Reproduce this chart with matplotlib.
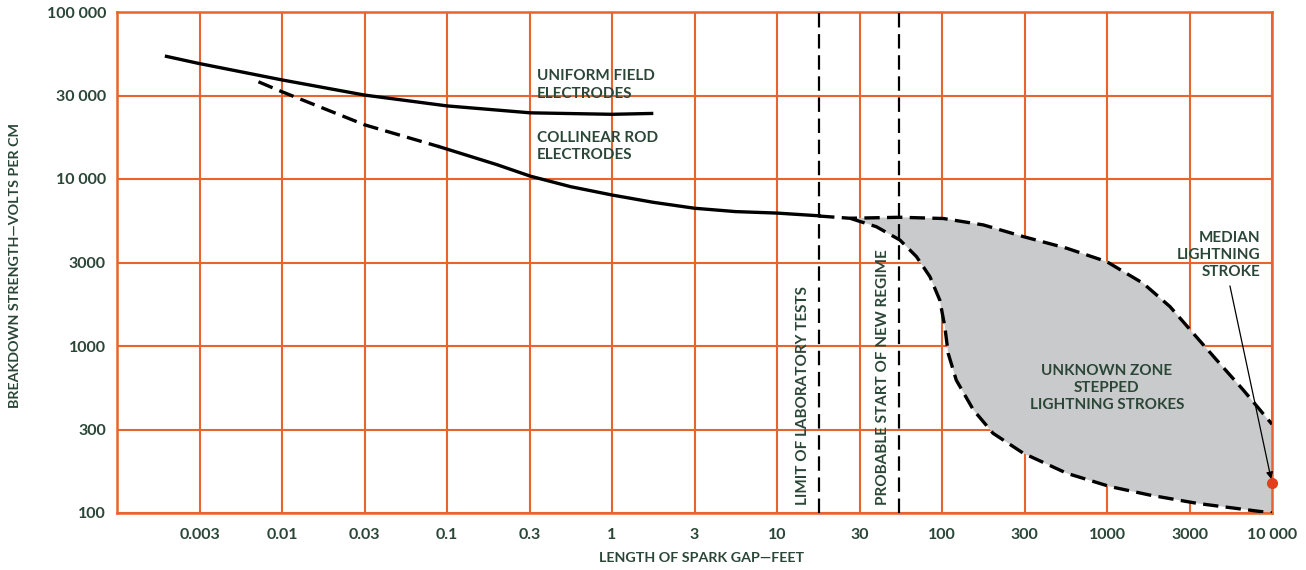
import numpy as np
import matplotlib
matplotlib.use("Agg")
import matplotlib.pyplot as plt

plt.rcParams['font.family'] = ['Lato', 'DejaVu Sans']

# uniform field electrodes
uni_x = [0.00195, 0.0031, 0.01, 0.0317, 0.1, 0.32, 1.0, 1.78]
uni_y = [54500, 49300, 39200, 31800, 27400, 24900, 24400, 24700]

# collinear rod electrodes (dashed start, then solid)
rod_dash_x = [0.0072, 0.01, 0.0317, 0.09]
rod_dash_y = [38200, 33300, 21100, 15600]
rod_x = [0.09, 0.2, 0.32, 0.56, 1.0, 1.78, 3.17, 5.6, 10, 18]
rod_y = [15600, 12200, 10400, 9000, 8020, 7250, 6680, 6380, 6250, 6020]

# unknown zone boundaries
up_x = [18, 27.7, 55.6, 102, 178, 311, 570, 996, 1660, 2410, 3335, 4620, 6700, 10000]
up_y = [6000, 5820, 5900, 5800, 5310, 4520, 3850, 3200, 2370, 1720, 1190, 824, 545, 340]
lo_x = [27.7, 40, 55.6, 70, 84.5, 97, 104, 109, 122, 155, 204, 311, 570, 1042, 1820, 3560, 10000]
lo_y = [5820, 5180, 4310, 3430, 2600, 1880, 1306, 904, 625, 414, 300, 228, 173, 144, 128, 114, 100]

lab_limit = 18
new_regime = 55
median_x, median_y = 10000, 151

xticks = [10 ** (k / 2) for k in range(-6, 9)]
xlabels = ['', '0.003', '0.01', '0.03', '0.1', '0.3', '1', '3', '10', '30',
           '100', '300', '1000', '3000', '10 000']
yticks = [10 ** (k / 2) for k in range(4, 11)]
ylabels = ['100', '300', '1000', '3000', '10 000', '30 000', '100 000']

grid_c = '#e8642e'
txt_c = '#2b4637'
fw = 'bold'

fig = plt.figure(figsize=(13.06, 5.70), dpi=100)
ax = fig.add_axes([117 / 1306, 1 - 513 / 570, (1272 - 117) / 1306, (513 - 12) / 570])
ax.set_xscale('log')
ax.set_yscale('log')
ax.set_xlim(1e-3, 1e4)
ax.set_ylim(1e2, 1e5)

ax.set_xticks(xticks)
ax.set_xticklabels(xlabels, fontweight=fw)
ax.set_yticks(yticks)
ax.set_yticklabels(ylabels, fontweight=fw)
ax.minorticks_off()
ax.tick_params(length=0, labelsize=11.5, labelcolor=txt_c)
ax.tick_params(axis='x', pad=11)
ax.tick_params(axis='y', pad=8)
ax.grid(True, color=grid_c, lw=1.5)
ax.set_axisbelow(True)
for s in ax.spines.values():
    s.set_color(grid_c)
    s.set_linewidth(1.8)

# gray zone
poly_x = up_x[1:] + [10000] + lo_x[::-1]
poly_y = up_y[1:] + [100] + lo_y[::-1]
ax.fill(poly_x, poly_y, color='#c9cacb', lw=0, zorder=1.5)

ax.plot(uni_x, uni_y, color='black', lw=2.4, solid_capstyle='butt', zorder=3)
ax.plot(rod_x, rod_y, color='black', lw=2.4, zorder=3)
ax.plot(rod_dash_x, rod_dash_y, color='black', lw=2.4, dashes=(4.6, 2.2), zorder=3)
ax.plot(up_x, up_y, color='black', lw=2.4, dashes=(4.6, 2.2), zorder=3)
ax.plot(lo_x, lo_y, color='black', lw=2.4, dashes=(4.6, 2.2), zorder=3)

ax.axvline(lab_limit, color='black', lw=1.6, dashes=(6.5, 3), zorder=3)
ax.axvline(new_regime, color='black', lw=1.6, dashes=(6.5, 3), zorder=3)

ax.plot([median_x], [median_y], 'o', color='#e2401c', ms=7, clip_on=False, zorder=4)
ax.annotate('', xy=(median_x, median_y), xytext=(5560, 2290),
            arrowprops=dict(arrowstyle='-|>', color='black', lw=0.9, mutation_scale=10,
                            shrinkA=0, shrinkB=3), zorder=4)

fs = 11
ax.text(0.35, 36560, 'UNIFORM FIELD\nELECTRODES', fontsize=fs, color=txt_c, fontweight=fw,
        ha='left', va='center', linespacing=1.3, zorder=4)
ax.text(0.35, 15660, 'COLLINEAR ROD\nELECTRODES', fontsize=fs, color=txt_c, fontweight=fw,
        ha='left', va='center', linespacing=1.3, zorder=4)
ax.text(1000, 560, 'UNKNOWN ZONE\nSTEPPED\nLIGHTNING STROKES', fontsize=fs, color=txt_c,
        fontweight=fw, ha='center', va='center', linespacing=1.3, zorder=4)
ax.text(8460, 3510, 'MEDIAN\nLIGHTNING\nSTROKE', fontsize=fs, color=txt_c, fontweight=fw,
        ha='right', va='center', linespacing=1.3, zorder=4)
ax.text(14.4, 112, 'LIMIT OF LABORATORY TESTS', fontsize=fs, color=txt_c, fontweight=fw,
        rotation=90, ha='center', va='bottom', zorder=4)
ax.text(43.9, 112, 'PROBABLE START OF NEW REGIME', fontsize=fs, color=txt_c, fontweight=fw,
        rotation=90, ha='center', va='bottom', zorder=4)

fig.text(702 / 1306, 1 - 558 / 570, 'LENGTH OF SPARK GAP\u2014FEET', fontsize=10.3,
         color=txt_c, fontweight=fw, ha='center', va='center')
fig.text(15 / 1306, 1 - 265 / 570, 'BREAKDOWN STRENGTH\u2014VOLTS PER CM', fontsize=10.3,
         color=txt_c, fontweight=fw, ha='center', va='center', rotation=90)

fig.savefig('out.png', dpi=100)
